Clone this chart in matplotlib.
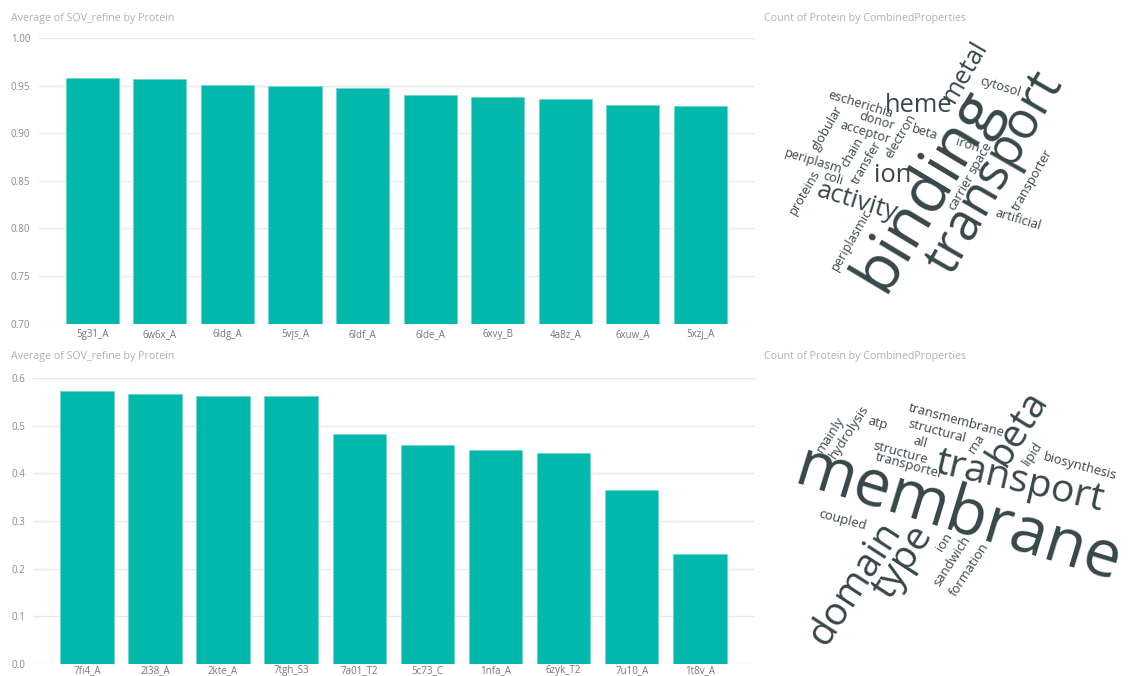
import matplotlib
matplotlib.use("Agg")
import matplotlib.pyplot as plt
import numpy as np

plt.rcParams['font.family'] = ['Open Sans', 'DejaVu Sans']

# ---- data -------------------------------------------------------------
top_proteins = ["5g31_A", "6w6x_A", "6ldg_A", "5vjs_A", "6ldf_A",
                "6lde_A", "6xvy_B", "4a8z_A", "6xuw_A", "5xzj_A"]
top_sov = [0.958, 0.957, 0.951, 0.950, 0.947, 0.940, 0.938, 0.936, 0.930, 0.929]

bottom_proteins = ["7fi4_A", "2l38_A", "2kte_A", "7tgh_S3", "7a01_T2",
                   "5c73_C", "1nfa_A", "6zyk_T2", "7u10_A", "1t8v_A"]
bottom_sov = [0.573, 0.566, 0.562, 0.562, 0.482, 0.460, 0.450, 0.442, 0.366, 0.230]

top_words = ["binding", "transport", "metal", "heme", "ion", "activity",
             "cytosol", "escherichia", "donor", "acceptor", "globular",
             "periplasm", "chain", "transfer", "electron", "beta", "iron",
             "space", "carrier", "transporter", "artificial", "coli",
             "proteins", "periplasmic"]
top_counts = [5, 4, 2, 2, 2, 2,
              1, 1, 1, 1, 1,
              1, 1, 1, 1, 1, 1,
              1, 1, 1, 1, 1,
              1, 1]

bottom_words = ["membrane", "transport", "beta", "domain", "type",
                "transmembrane", "structural", "all", "structure",
                "transporter", "atp", "mainly", "hydrolysis", "rna", "lipid",
                "biosynthesis", "coupled", "ion", "sandwich", "formation"]
bottom_counts = [5, 3, 3, 3, 3,
                 1, 1, 1, 1,
                 1, 1, 1, 1, 1, 1,
                 1, 1, 1, 1, 1]

# ---- word-cloud layout (pixel positions and rotation of each word) ----
top_layout = [
    (927, 190, 59), (995, 173, 60), (965, 72, 60), (919, 106, 0),
    (893, 175, 0), (857, 202, -17), (1000, 87, -17), (860, 104, -17),
    (877, 121, -17), (865, 132, -17), (827, 128, 60), (813, 162, -17),
    (852, 152, 60), (867, 163, 60), (900, 136, 60), (925, 133, -17),
    (968, 145, -17), (980, 158, 60), (961, 192, 60), (1032, 180, 60),
    (1018, 220, -17), (833, 179, -17), (805, 192, 60), (852, 240, 60),
]
bottom_layout = [
    (958, 517, -17), (1020, 482, -13), (1018, 428, 58), (855, 583, 57),
    (903, 562, 57), (956, 420, -15), (937, 431, -15), (920, 442, -15),
    (900, 453, -15), (909, 466, -15), (878, 423, -15), (830, 435, 57),
    (849, 432, 57), (977, 443, 57), (1032, 454, 57), (1080, 467, -15),
    (842, 520, -15), (944, 542, 57), (952, 561, 57), (969, 570, 57),
]

# ---- style ------------------------------------------------------------
W, H = 1130, 676
BAR = "#01B8AA"
BAR_EDGE = "#74d7cf"
GRID = "#e9e9e9"
TITLE = "#b0b0b0"
YTICK = "#8a8a8a"
XTICK = "#767676"
WORD = "#374649"

fig = plt.figure(figsize=(W / 100, H / 100), dpi=100)
fig.patch.set_facecolor("white")


def px_axes(x0, y0, x1, y1):
    """Axes placed by pixel box (top-left origin)."""
    return fig.add_axes([x0 / W, 1 - y1 / H, (x1 - x0) / W, (y1 - y0) / H])


def bar_panel(ax, names, values, ylim, ticks, fmt, label_pad, xpad):
    x = np.arange(len(names))
    ax.bar(x, values, width=0.785, color=BAR, edgecolor=BAR_EDGE,
           linewidth=0.7, zorder=2)
    ax.set_xlim(-0.79, len(names) - 1 + 0.81)
    ax.set_ylim(*ylim)
    ax.set_yticks(ticks)
    ax.set_yticklabels([fmt.format(t) for t in ticks])
    ax.set_xticks(x)
    ax.set_xticklabels(names)
    for s in ax.spines.values():
        s.set_visible(False)
    ax.yaxis.grid(True, color=GRID, linewidth=1.0, zorder=0)
    ax.set_axisbelow(True)
    ax.tick_params(axis="both", length=0)
    ax.tick_params(axis="y", labelsize=7, labelcolor=YTICK, pad=label_pad)
    ax.tick_params(axis="x", labelsize=7, labelcolor=XTICK, pad=xpad)
    for lab in ax.get_yticklabels():
        lab.set_horizontalalignment("left")
    ax.set_facecolor("none")


ax_top = px_axes(39, 38, 755, 323.6)
bar_panel(ax_top, top_proteins, top_sov, (0.70, 1.00),
          np.round(np.arange(0.70, 1.001, 0.05), 2), "{:.2f}", 20.2, 4)

ax_bot = px_axes(33, 378, 755, 664)
bar_panel(ax_bot, bottom_proteins, bottom_sov, (0.0, 0.6),
          np.round(np.arange(0.0, 0.601, 0.1), 1), "{:.1f}", 15.8, 0.5)

# panel titles
for (tx, ty, txt) in [(11, 18, "Average of SOV_refine by Protein"),
                      (11, 357, "Average of SOV_refine by Protein"),
                      (764, 18, "Count of Protein by CombinedProperties"),
                      (764, 357, "Count of Protein by CombinedProperties")]:
    fig.text(tx / W, 1 - ty / H, txt, fontsize=7.7, color=TITLE,
             ha="left", va="center")


def word_cloud(y0, y1, words, counts, layout, unit):
    ax = px_axes(760, y0, 1130, y1)
    ax.set_xlim(760, 1130)
    ax.set_ylim(y1, y0)
    ax.axis("off")
    for word, count, (x, y, ang) in zip(words, counts, layout):
        ax.text(x, y, word, fontsize=unit * count, color=WORD,
                rotation=ang, rotation_mode="anchor",
                ha="center", va="center", clip_on=False)


word_cloud(0, 338, top_words, top_counts, top_layout, 9.2)
word_cloud(338, 676, bottom_words, bottom_counts, bottom_layout, 9.4)

fig.savefig("out.png", dpi=100, facecolor="white")
